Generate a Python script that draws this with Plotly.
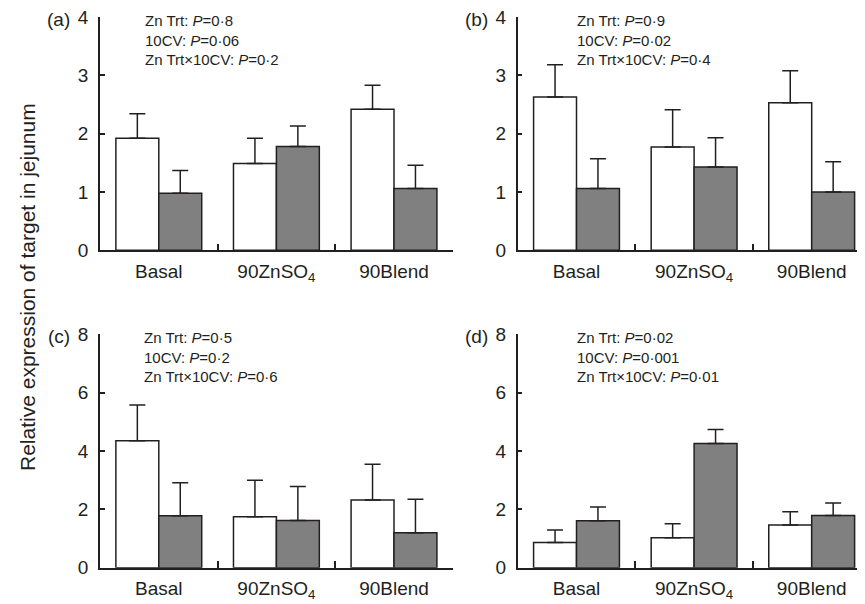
import plotly.graph_objects as go

categories = ["Basal", "90ZnSO<sub>4</sub>", "90Blend"]

# Panel (a)
a_white = [1.92, 1.49, 2.42]
a_white_se = [0.42, 0.43, 0.41]
a_grey = [0.98, 1.78, 1.06]
a_grey_se = [0.39, 0.35, 0.40]
# Panel (b)
b_white = [2.63, 1.77, 2.53]
b_white_se = [0.55, 0.64, 0.55]
b_grey = [1.06, 1.43, 1.00]
b_grey_se = [0.51, 0.50, 0.52]
# Panel (c)
c_white = [4.35, 1.75, 2.32]
c_white_se = [1.23, 1.25, 1.23]
c_grey = [1.78, 1.62, 1.20]
c_grey_se = [1.13, 1.16, 1.15]
# Panel (d)
d_white = [0.86, 1.03, 1.46]
d_white_se = [0.43, 0.48, 0.46]
d_grey = [1.61, 4.26, 1.79]
d_grey_se = [0.47, 0.48, 0.43]

panel_labels = ["(a)", "(b)", "(c)", "(d)"]
stats_text = [
    ["Zn Trt: <i>P</i>=0·8", "10CV: <i>P</i>=0·06", "Zn Trt×10CV: <i>P</i>=0·2"],
    ["Zn Trt: <i>P</i>=0·9", "10CV: <i>P</i>=0·02", "Zn Trt×10CV: <i>P</i>=0·4"],
    ["Zn Trt: <i>P</i>=0·5", "10CV: <i>P</i>=0·2", "Zn Trt×10CV: <i>P</i>=0·6"],
    ["Zn Trt: <i>P</i>=0·02", "10CV: <i>P</i>=0·001", "Zn Trt×10CV: <i>P</i>=0·01"],
]
y_max = [4, 4, 8, 8]
y_dtick = [1, 1, 2, 2]

OFF = 8  # page body margin
W, H = 865 - OFF, 604 - OFF
INK = "#231f20"
FONT = "Liberation Sans, Arial, Helvetica, sans-serif"


def px(x):
    return (x - OFF) / W


def py(y):
    return 1 - (y - OFF) / H


panels = [
    (a_white, a_white_se, a_grey, a_grey_se),
    (b_white, b_white_se, b_grey, b_grey_se),
    (c_white, c_white_se, c_grey, c_grey_se),
    (d_white, d_white_se, d_grey, d_grey_se),
]

# pixel geometry of each panel in the window: (left, right, top, bottom, stats text offset)
geom = [
    (100, 453, 17, 250.3, 45),
    (517.7, 865, 17, 250.3, 59),
    (100, 453, 334.3, 567.7, 44),
    (517.7, 865, 334.3, 567.7, 59),
]
cat_w = 117.6

fig = go.Figure()
layout = dict(
    width=W, height=H,
    margin=dict(l=0, r=0, t=0, b=0),
    paper_bgcolor="white", plot_bgcolor="white",
    showlegend=False,
    barmode="group", bargap=0.27, bargroupgap=0,
    font=dict(family=FONT, color=INK),
)
annotations = []

for i, (w, wse, g, gse) in enumerate(panels):
    xa = "x" if i == 0 else f"x{i+1}"
    ya = "y" if i == 0 else f"y{i+1}"
    for vals, se, fill in ((w, wse, "white"), (g, gse, "#808080")):
        fig.add_trace(go.Bar(
            x=categories, y=vals, xaxis=xa, yaxis=ya,
            marker=dict(color=fill, line=dict(color=INK, width=1.5)),
            error_y=dict(type="data", symmetric=False, array=se,
                         arrayminus=[0] * len(se), color=INK,
                         thickness=1.5, width=8),
        ))
    L, R, T, B, off = geom[i]
    span = (R - L) / cat_w
    xkey = "xaxis" if i == 0 else f"xaxis{i+1}"
    ykey = "yaxis" if i == 0 else f"yaxis{i+1}"
    layout[xkey] = dict(
        domain=[px(L), min(px(R), 1)], anchor=ya, type="category",
        range=[-0.5, -0.5 + span], automargin=False,
        showline=True, linecolor=INK, linewidth=1.5,
        ticks="inside", tickson="boundaries", ticklen=7, tickwidth=1.5,
        tickcolor=INK, showgrid=False, zeroline=False,
        tickfont=dict(size=19, family=FONT, color=INK),
        ticklabelstandoff=3,
    )
    layout[ykey] = dict(
        domain=[py(B), py(T)], anchor=xa, automargin=False,
        range=[0, y_max[i]], dtick=y_dtick[i],
        showline=True, linecolor=INK, linewidth=1.5,
        ticks="inside", ticklen=5, tickwidth=1.5, tickcolor=INK,
        showgrid=False, zeroline=False,
        tickfont=dict(size=19, family=FONT, color=INK),
        ticklabelstandoff=6, ticklabeloverflow="allow",
    )
    annotations.append(dict(
        text=panel_labels[i], xref="paper", yref="paper",
        x=px(L - 28), y=py(T + 2), xanchor="right", yanchor="middle",
        showarrow=False, font=dict(size=19, family=FONT, color=INK),
    ))
    annotations.append(dict(
        text="<br>".join(stats_text[i]), xref="paper", yref="paper",
        x=px(L + off - 2), y=py(T - 7), xanchor="left", yanchor="top",
        align="left", showarrow=False,
        font=dict(size=15, family=FONT, color=INK),
    ))

annotations.append(dict(
    text="Relative expression of target in jejunum",
    xref="paper", yref="paper", x=px(27), y=py(287),
    xanchor="center", yanchor="middle", textangle=-90, showarrow=False,
    font=dict(size=21, family=FONT, color=INK),
))
layout["annotations"] = annotations
fig.update_layout(**layout)
fig.write_html("out.html")
